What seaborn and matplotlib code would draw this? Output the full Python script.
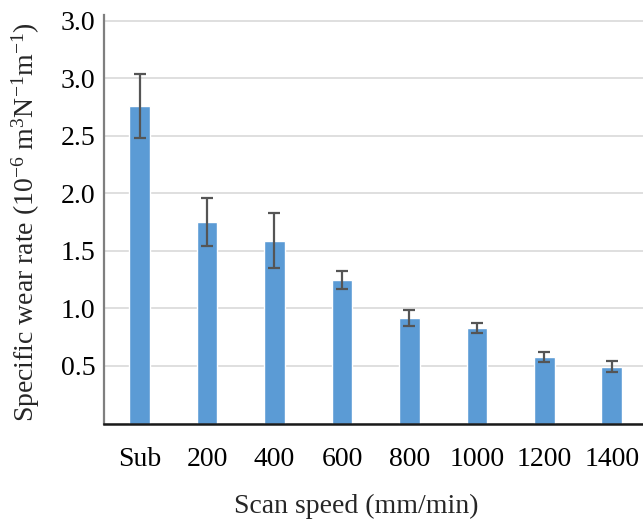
import matplotlib
matplotlib.use("Agg")
import matplotlib.pyplot as plt
import seaborn as sns
import pandas as pd
import numpy as np

# Specific wear rate per scan speed, with standard deviation
categories = ["Sub", "200", "400", "600", "800", "1000", "1200", "1400"]
wear_rate = [2.76, 1.75, 1.59, 1.25, 0.92, 0.83, 0.58, 0.495]
wear_err = [0.28, 0.21, 0.235, 0.077, 0.07, 0.047, 0.045, 0.047]
y_ticks = [0.0, 0.5, 1.0, 1.5, 2.0, 2.5, 3.0, 3.5]
y_tick_labels = ["", "0.5", "1.0", "1.5", "2.0", "2.5", "3.0", "3.0"]

df = pd.DataFrame({"speed": categories, "rate": wear_rate, "err": wear_err})

sns.set_theme(style="white")
plt.rcParams["font.family"] = ["Liberation Serif", "DejaVu Serif"]
plt.rcParams["mathtext.fontset"] = "custom"
plt.rcParams["mathtext.rm"] = "Liberation Serif"
plt.rcParams["mathtext.it"] = "Liberation Serif:italic"
plt.rcParams["mathtext.bf"] = "Liberation Serif:bold"

fig = plt.figure(figsize=(6.43, 5.19), dpi=100)
ax = fig.add_axes([104 / 643, 1 - 423.5 / 519, 1 - 104 / 643, (423.5 - 15) / 519])

sns.barplot(data=df, x="speed", y="rate", order=categories, color="#5B9BD5",
            width=0.31, errorbar=None, saturation=1, ax=ax, zorder=2)
ax.errorbar(np.arange(len(categories)), df["rate"], yerr=df["err"], fmt="none",
            ecolor="#555555", elinewidth=1.6, capsize=4, capthick=1.6, zorder=3)

ax.set_xlim(-0.526, 7.46)
ax.set_ylim(0, 3.55)
ax.set_yticks(y_ticks)
ax.set_yticklabels(y_tick_labels)
ax.yaxis.grid(True, color="#d9d9d9", linewidth=1.2, zorder=0)
ax.set_axisbelow(True)

for s in ["top", "right"]:
    ax.spines[s].set_visible(False)
ax.spines["left"].set_color("#7f7f7f")
ax.spines["left"].set_linewidth(1.6)
ax.spines["bottom"].set_color("#1a1a1a")
ax.spines["bottom"].set_linewidth(1.8)

ax.tick_params(axis="both", length=0, labelsize=20, colors="black")
ax.tick_params(axis="x", pad=17)
ax.tick_params(axis="y", pad=6)

ax.set_xlabel("Scan speed (mm/min)", fontsize=20)
ax.xaxis.set_label_coords((356 - 104) / (643 - 104), -(494 - 423.5) / (423.5 - 15), transform=ax.transAxes)
ax.set_ylabel(r"Specific wear rate (10$^{-6}$ m$^{3}$N$^{-1}$m$^{-1}$)", fontsize=20)
ax.yaxis.set_label_coords(-(104 - 42) / (643 - 104), 0.5 - (222 - 219) / (423.5 - 15), transform=ax.transAxes)

fig.savefig("out.png", dpi=100)
